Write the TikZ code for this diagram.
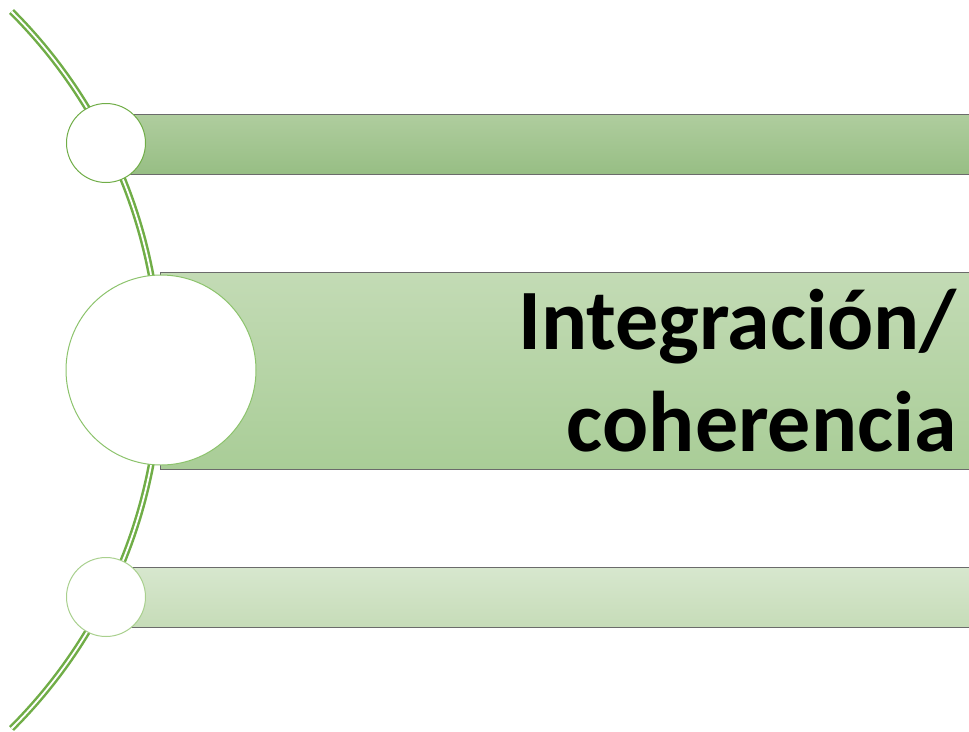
\documentclass[tikz,border=0pt]{standalone}
\usepackage{fontspec}
\setmainfont{Carlito}
\usepackage{tikz}

\definecolor{arcgreen}{HTML}{70AD47}
\definecolor{bargray}{HTML}{6B6B6B}
\definecolor{topA}{HTML}{AFCD9E}
\definecolor{topB}{HTML}{97BE84}
\definecolor{midA}{HTML}{C3DBB5}
\definecolor{midB}{HTML}{A9CD97}
\definecolor{botA}{HTML}{D7E7CE}
\definecolor{botB}{HTML}{C6DCB8}
\definecolor{ringmid}{HTML}{8CC36C}
\definecolor{ringbot}{HTML}{A9D08E}

\tikzset{
  bar/.style={draw=bargray, line width=1.2pt, rectangle, inner sep=0pt, anchor=north west},
  dot/.style={circle, fill=white, line width=1pt, inner sep=0pt}
}

\begin{document}
\begin{tikzpicture}[x=1pt, y=-1pt]
  \useasboundingbox (0,0) rectangle (969,731);
  % Double arc on the left
  \draw[arcgreen, line width=2.5pt, double=white, double distance=1.8pt]
    (-347,370) ++(-45:507) arc (-45:45:507);
  % Bars
  \node[bar, top color=topA, bottom color=topB,
        minimum width=860pt, minimum height=60pt] (bartop) at (125,114) {};
  \node[bar, top color=midA, bottom color=midB,
        minimum width=830pt, minimum height=197pt] (barmid) at (160,272) {};
  \node[bar, top color=botA, bottom color=botB,
        minimum width=860pt, minimum height=60pt] (barbot) at (125,567) {};
  % Circles on the arc
  \node[dot, draw=arcgreen, minimum size=79pt] (ctop) at (106,143) {};
  \node[dot, draw=ringmid, minimum size=190pt] (cmid) at (161,370) {};
  \node[dot, draw=ringbot, minimum size=79pt] (cbot) at (106,597) {};
  % Label
  \node[anchor=east, align=right, inner sep=0pt,
        font=\fontsize{86}{102}\selectfont\bfseries] (label) at (957,371)
    {Integración/\\coherencia};
\end{tikzpicture}
\end{document}
